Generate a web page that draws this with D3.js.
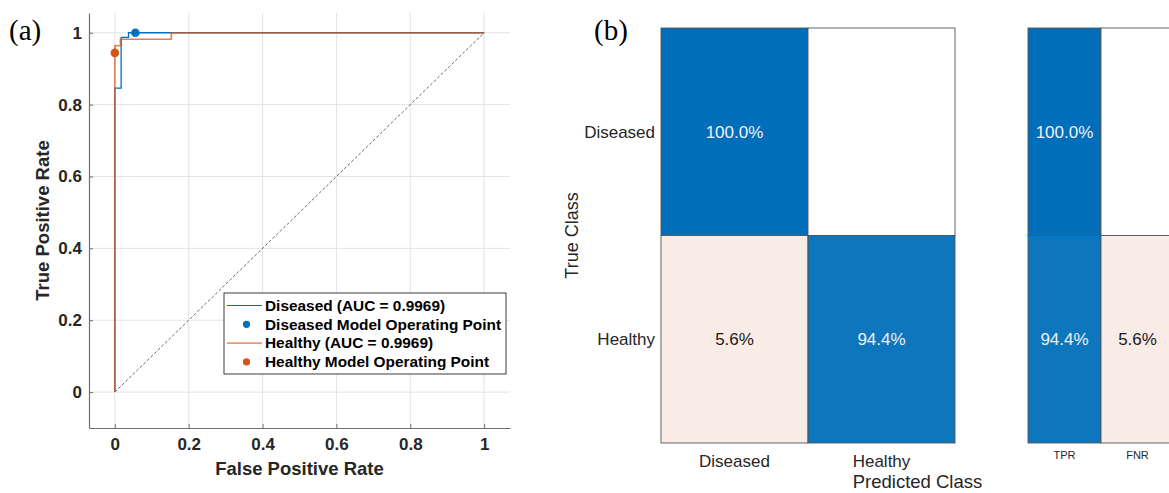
<!DOCTYPE html>
<html>
<head>
<meta charset="utf-8">
<script src="https://cdn.jsdelivr.net/npm/d3@7"></script>
<style>
  html, body { margin: 0; padding: 0; background: #fff; }
  svg { display: block; font-family: "Liberation Sans", Arial, sans-serif; }
  .grid line { stroke: #e3e3e3; stroke-width: 1; }
  .panel-tag { font-family: "Liberation Serif", "Times New Roman", serif; font-size: 29px; fill: #000; }
</style>
</head>
<body>
<svg id="chart" width="1169" height="493"></svg>
<script>
// ---- panel (a): ROC curves ----
const xTicks = [0, 0.2, 0.4, 0.6, 0.8, 1];
const yTicks = [0, 0.2, 0.4, 0.6, 0.8, 1];
const diseasedFPR = [0, 0, 0.017, 0.017, 0.037, 0.037, 1];
const diseasedTPR = [0, 0.846, 0.846, 0.987, 0.987, 1, 1];
const healthyFPR = [0, 0, 0.015, 0.015, 0.153, 0.153, 1];
const healthyTPR = [0, 0.964, 0.964, 0.982, 0.982, 1, 1];
const operatingPoints = [
  { name: 'Diseased', fpr: 0.0556, tpr: 1.0 },
  { name: 'Healthy', fpr: 0.0, tpr: 0.944 },
];
const legendLabels = [
  'Diseased (AUC = 0.9969)',
  'Diseased Model Operating Point',
  'Healthy (AUC = 0.9969)',
  'Healthy Model Operating Point',
];

// ---- panel (b): confusion chart ----
const trueClasses = ['Diseased', 'Healthy'];
const predictedClasses = ['Diseased', 'Healthy'];
const cellPct = [[100.0, 0.0], [5.6, 94.4]];   // row-normalised
const summaryCols = ['TPR', 'FNR'];
const tprPct = [100.0, 94.4];
const fnrPct = [0.0, 5.6];

const BLUE = '#0072bd', ORANGE = '#d95319';
const svg = d3.select('#chart');

// ================= (a) =================
const x = d3.scaleLinear().domain([-0.07, 1.07]).range([89, 510]);
const y = d3.scaleLinear().domain([-0.1, 1.055]).range([428, 13]);

const ga = svg.append('g');
ga.append('g').attr('class', 'grid').selectAll('line.gx').data(xTicks).join('line')
  .attr('x1', (d) => x(d)).attr('x2', (d) => x(d)).attr('y1', y.range()[0]).attr('y2', y.range()[1]);
ga.append('g').attr('class', 'grid').selectAll('line.gy').data(yTicks).join('line')
  .attr('x1', x.range()[0]).attr('x2', x.range()[1]).attr('y1', (d) => y(d)).attr('y2', (d) => y(d));

const xAxis = ga.append('g').attr('transform', `translate(0,${y.range()[0]})`)
  .call(d3.axisBottom(x).tickValues(xTicks).tickFormat(d3.format('~g')).tickSizeInner(-4).tickSizeOuter(0).tickPadding(10));
const yAxis = ga.append('g').attr('transform', `translate(${x.range()[0]},0)`)
  .call(d3.axisLeft(y).tickValues(yTicks).tickFormat(d3.format('~g')).tickSizeInner(-4).tickSizeOuter(0).tickPadding(7));
[xAxis, yAxis].forEach((a) => {
  a.select('.domain').attr('stroke', '#6e6e6e').attr('stroke-width', 1.2);
  a.selectAll('.tick line').attr('stroke', '#6e6e6e');
  a.selectAll('.tick text').attr('fill', '#262626').style('font-size', '17px').style('font-weight', 'bold');
});

ga.append('text').attr('x', (x.range()[0] + x.range()[1]) / 2).attr('y', 475)
  .attr('text-anchor', 'middle').attr('fill', '#262626')
  .style('font-size', '18.5px').style('font-weight', 'bold').text('False Positive Rate');
ga.append('text').attr('transform', `translate(49,${(y.range()[0] + y.range()[1]) / 2}) rotate(-90)`)
  .attr('text-anchor', 'middle').attr('fill', '#262626')
  .style('font-size', '18.5px').style('font-weight', 'bold').text('True Positive Rate');

// chance line
ga.append('line').attr('x1', x(0)).attr('y1', y(0)).attr('x2', x(1)).attr('y2', y(1))
  .attr('stroke', '#6b6b6b').attr('stroke-width', 1).attr('stroke-dasharray', '3,2');

const line = d3.line().x((d) => x(d[0])).y((d) => y(d[1]));
ga.append('path').datum(d3.zip(diseasedFPR, diseasedTPR)).attr('d', line)
  .attr('fill', 'none').attr('stroke', BLUE).attr('stroke-width', 1.3);
ga.append('path').datum(d3.zip(healthyFPR, healthyTPR)).attr('d', line)
  .attr('fill', 'none').attr('stroke', ORANGE).attr('stroke-opacity', 0.75).attr('stroke-width', 1.6);

ga.selectAll('circle.op').data(operatingPoints).join('circle')
  .attr('cx', (d) => x(d.fpr)).attr('cy', (d) => y(d.tpr)).attr('r', 4.3)
  .attr('fill', (d) => (d.name === 'Diseased' ? BLUE : ORANGE));

// legend
const lg = ga.append('g').attr('transform', 'translate(224,293)');
lg.append('rect').attr('width', 282).attr('height', 81).attr('fill', '#fff')
  .attr('stroke', '#262626').attr('stroke-width', 0.9);
const ly = (i) => 12.5 + i * 18.8;
legendLabels.forEach((lab, i) => {
  const row = lg.append('g').attr('transform', `translate(0,${ly(i)})`);
  if (i % 2 === 0) {
    row.append('line').attr('x1', 3).attr('x2', 38).attr('y1', 0).attr('y2', 0)
      .attr('stroke', i === 0 ? '#1f5f9e' : ORANGE).attr('stroke-opacity', i === 0 ? 1 : 0.6)
      .attr('stroke-width', i === 0 ? 1 : 1.6);
  } else {
    row.append('circle').attr('cx', 22.5).attr('cy', 0).attr('r', 3.6).attr('fill', i === 1 ? BLUE : ORANGE);
  }
  row.append('text').attr('x', 41).attr('y', 0).attr('dy', '0.35em').attr('fill', '#000')
    .style('font-size', '15.4px').style('font-weight', 'bold').text(lab);
});

svg.append('text').attr('class', 'panel-tag').attr('x', 9).attr('y', 40).text('(a)');

// ================= (b) =================
const gb = svg.append('g');
const cx = d3.scaleBand().domain(predictedClasses).range([661, 955]);
const cy = d3.scaleBand().domain(trueClasses).range([28, 443]);
const sx = d3.scaleBand().domain(summaryCols).range([1028, 1174]);

const diagColor = d3.scaleLinear().domain([0, 100]).range(['#ffffff', '#006eb8']);
const offColor = d3.scaleLinear().domain([0, 20]).range(['#ffffff', '#e9b8a6']);

const cells = [];
trueClasses.forEach((t, i) => predictedClasses.forEach((p, j) => {
  cells.push({ t, p, v: cellPct[i][j], diag: i === j });
}));
const summary = [];
trueClasses.forEach((t, i) => {
  summary.push({ t, p: 'TPR', v: tprPct[i], diag: true });
  summary.push({ t, p: 'FNR', v: fnrPct[i], diag: false });
});

function fillOf(d) { return d.diag ? diagColor(d.v) : offColor(d.v); }
function textFill(d) { return d.diag && d.v > 50 ? '#f0f0f0' : '#1a1a1a'; }

function drawCells(g, data, xs) {
  g.selectAll('rect').data(data).join('rect')
    .attr('x', (d) => xs(d.p)).attr('y', (d) => cy(d.t))
    .attr('width', xs.bandwidth()).attr('height', cy.bandwidth())
    .attr('fill', fillOf).attr('stroke', '#555').attr('stroke-width', 0.9);
  g.selectAll('text').data(data.filter((d) => d.v > 0)).join('text')
    .attr('x', (d) => xs(d.p) + xs.bandwidth() / 2).attr('y', (d) => cy(d.t) + cy.bandwidth() / 2)
    .attr('text-anchor', 'middle').attr('dy', '0.35em').attr('fill', textFill)
    .style('font-size', '17px').text((d) => d.v.toFixed(1) + '%');
}
drawCells(gb.append('g'), cells, cx);
drawCells(gb.append('g'), summary, sx);

gb.selectAll('text.ytick').data(trueClasses).join('text').attr('class', 'ytick')
  .attr('x', 655).attr('y', (d) => cy(d) + cy.bandwidth() / 2).attr('dy', '0.35em')
  .attr('text-anchor', 'end').attr('fill', '#262626').style('font-size', '17px').text((d) => d);
gb.selectAll('text.xtick').data(predictedClasses).join('text').attr('class', 'xtick')
  .attr('x', (d) => cx(d) + cx.bandwidth() / 2).attr('y', 461).attr('dy', '0.35em')
  .attr('text-anchor', 'middle').attr('fill', '#262626').style('font-size', '17px').text((d) => d);
gb.selectAll('text.stick').data(summaryCols).join('text').attr('class', 'stick')
  .attr('x', (d) => sx(d) + sx.bandwidth() / 2).attr('y', 455).attr('dy', '0.35em')
  .attr('text-anchor', 'middle').attr('fill', '#262626').style('font-size', '11px').text((d) => d);

gb.append('text').attr('x', (cx.range()[0] + sx.range()[1]) / 2).attr('y', 482).attr('dy', '0.35em')
  .attr('text-anchor', 'middle').attr('fill', '#262626').style('font-size', '18.5px').text('Predicted Class');
gb.append('text').attr('transform', `translate(572,${(cy.range()[0] + cy.range()[1]) / 2}) rotate(-90)`)
  .attr('text-anchor', 'middle').attr('dy', '0.35em').attr('fill', '#262626')
  .style('font-size', '18px').text('True Class');

svg.append('text').attr('class', 'panel-tag').attr('x', 594).attr('y', 40).text('(b)');
</script>
</body>
</html>
